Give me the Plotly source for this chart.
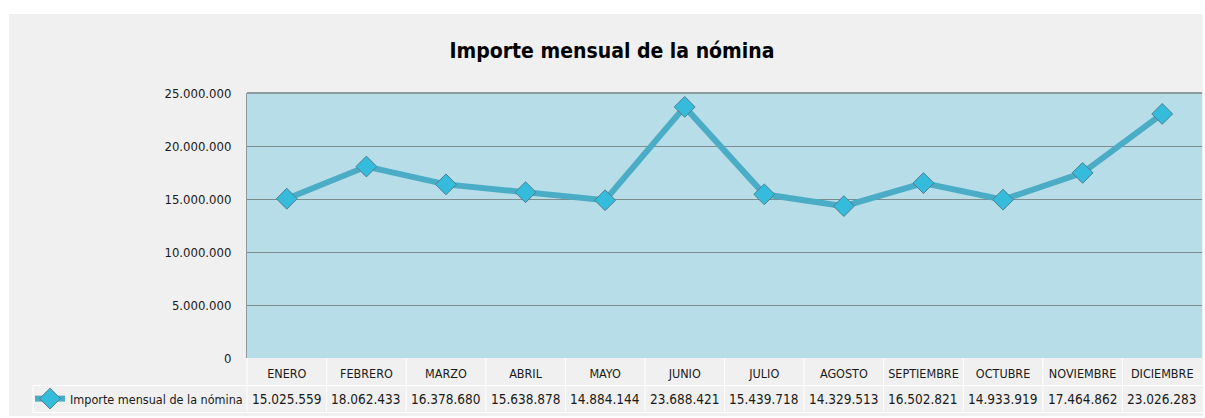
import plotly.graph_objects as go

# Data
meses = ["ENERO", "FEBRERO", "MARZO", "ABRIL", "MAYO", "JUNIO", "JULIO",
         "AGOSTO", "SEPTIEMBRE", "OCTUBRE", "NOVIEMBRE", "DICIEMBRE"]
importe = [15025559, 18062433, 16378680, 15638878, 14884144, 23688421,
           15439718, 14329513, 16502821, 14933919, 17464862, 23026283]
serie = "Importe mensual de la nómina"
titulo = "Importe mensual de la nómina"

FONT = "DejaVu Sans Condensed, Liberation Sans Narrow, Liberation Sans, sans-serif"
W, H = 1205, 418
L, R, T, B = 247, 1202, 93, 358   # plot area in pixels
pw, ph = R - L, B - T


def px_x(x):
    return (x - L) / pw


def px_y(y):
    return (B - y) / ph


fig = go.Figure()
fig.add_trace(go.Scatter(
    x=meses, y=importe, name=serie, mode="lines+markers",
    line=dict(color="#4BACC6", width=6),
    marker=dict(symbol="diamond", size=16, color="#35BCDD",
                line=dict(color="#4F7F8C", width=1)),
))

shapes = [
    # grey chart background
    dict(type="rect", xref="paper", yref="paper", layer="below",
         x0=px_x(9), x1=px_x(1203), y0=px_y(416), y1=px_y(14),
         fillcolor="#F0F0F0", line_width=0),
    # plot area fill
    dict(type="rect", xref="paper", yref="paper", layer="below",
         x0=0, x1=1, y0=0, y1=1, fillcolor="#B7DDE8", line_width=0),
    # data table grid (white)
    dict(type="line", xref="paper", yref="paper", x0=px_x(33), x1=px_x(1203),
         y0=px_y(385.5), y1=px_y(385.5), line=dict(color="white", width=1)),
    dict(type="line", xref="paper", yref="paper", x0=px_x(33), x1=px_x(1203),
         y0=px_y(412.5), y1=px_y(412.5), line=dict(color="white", width=1)),
    dict(type="line", xref="paper", yref="paper", x0=px_x(33), x1=px_x(33),
         y0=px_y(385.5), y1=px_y(412.5), line=dict(color="white", width=1)),
    dict(type="line", xref="paper", yref="paper", x0=0, x1=0,
         y0=px_y(358), y1=px_y(412.5), line=dict(color="white", width=1)),
    # top border of plot area
    dict(type="line", xref="paper", yref="paper", x0=0, x1=1, y0=1, y1=1,
         line=dict(color="#8C9C9E", width=2)),
]
for i in range(1, len(meses)):
    shapes.append(dict(type="line", xref="x", yref="paper", x0=i - 0.5, x1=i - 0.5,
                       y0=px_y(358), y1=px_y(412.5),
                       line=dict(color="white", width=1)))

annotations = []
for m, v in zip(meses, importe):
    annotations.append(dict(x=m, xref="x", y=px_y(399), yref="paper",
                            text=f"{v:,}".replace(",", "."), showarrow=False,
                            font=dict(family=FONT, size=13.5, color="#1A1A1A"),
                            xanchor="center", yanchor="middle"))

fig.update_layout(
    width=W, height=H,
    margin=dict(l=L, r=W - R, t=T, b=H - B),
    paper_bgcolor="white", plot_bgcolor="#B7DDE8",
    separators=",.",
    title=dict(text=f"<b>{titulo}</b>", x=612 / W, xref="container",
               y=1 - 51 / H, yref="container", xanchor="center", yanchor="middle",
               font=dict(family=FONT, size=21, color="black")),
    xaxis=dict(type="category", range=[-0.5, 11.5], showgrid=False,
               showline=False, zeroline=False, ticks="",
               tickfont=dict(family=FONT, size=12.5, color="#1A1A1A"),
               ticklabelstandoff=6),
    yaxis=dict(range=[0, 25000000], dtick=5000000, tickformat=",d",
               showgrid=True, gridcolor="#7F8C8D", gridwidth=1,
               showline=True, linecolor="#8C9C9E", linewidth=1,
               zeroline=False, ticks="",
               tickfont=dict(family=FONT, size=13, color="#1A1A1A"),
               ticklabelstandoff=12),
    showlegend=True,
    legend=dict(x=px_x(30), y=px_y(399), xanchor="left", yanchor="middle",
                bgcolor="rgba(0,0,0,0)", itemwidth=30,
                font=dict(family=FONT, size=12.5, color="#1A1A1A")),
    shapes=shapes, annotations=annotations,
)

fig.write_html("out.html", config={"displayModeBar": False},
               post_script="document.body.style.margin='0';")
